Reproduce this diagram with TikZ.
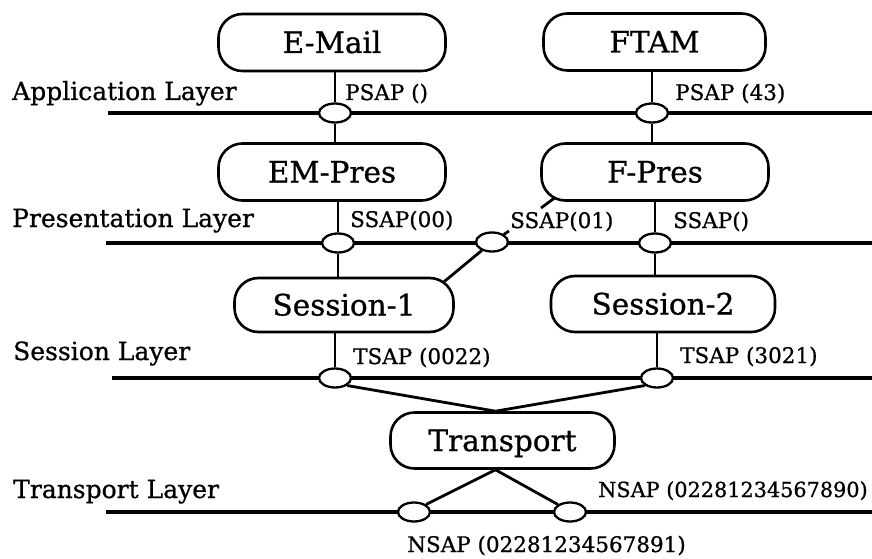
\documentclass[tikz,border=0pt]{standalone}
\usepackage{fontspec}
\setmainfont{DejaVu Serif}[FakeBold=0.8]
\usetikzlibrary{shapes.geometric,backgrounds,calc}
\begin{document}
\begin{tikzpicture}[x=1pt,y=-1pt,
  box/.style={draw,line width=2.6pt,rounded corners=24pt,fill=white,minimum width=227pt,minimum height=57pt,inner sep=0pt,text height=21pt,text depth=0pt,font=\fontsize{29.5}{34}\selectfont},
  sap/.style={draw,ellipse,line width=2.3pt,fill=white,minimum width=32pt,minimum height=19pt,inner sep=0pt},
  layerline/.style={line width=3.8pt},
  conn/.style={line width=2.8pt},
  lbl/.style={anchor=base west,inner sep=0pt,font=\fontsize{25}{30}\selectfont},
  saplbl/.style={anchor=base west,inner sep=0pt,font=\fontsize{21.5}{26}\selectfont}]
\useasboundingbox (0,0) rectangle (872,559);
% boxes
\node[box] (email) at (332,42.5) {E-Mail};
\node[box,minimum width=222pt] (ftam) at (654.5,42) {FTAM};
\node[box] (empres) at (332,172) {EM-Pres};
\node[box] (fpres) at (655,172) {F-Pres};
\node[box,minimum width=219pt,minimum height=54pt] (sess1) at (344,305) {Session-1};
\node[box,minimum width=224pt,minimum height=56pt] (sess2) at (663,304) {Session-2};
\node[box,minimum width=224pt,minimum height=56pt] (trans) at (502.5,440.5) {Transport};
% service access points
\node[sap] (pA1) at (335,113) {};
\node[sap] (pA2) at (652,113) {};
\node[sap] (pP1) at (338,243) {};
\node[sap] (pP2) at (492,242) {};
\node[sap] (pP3) at (655,243) {};
\node[sap] (pS1) at (335,378) {};
\node[sap] (pS2) at (657,378) {};
\node[sap] (pT1) at (414,512) {};
\node[sap] (pT2) at (570,512) {};
% layer labels
\node[lbl] (lapp) at (12,100) {Application Layer};
\node[lbl] (lpres) at (12,227) {Presentation Layer};
\node[lbl] (lsess) at (13,360) {Session Layer};
\node[lbl] (ltrans) at (13,498) {Transport Layer};
% SAP labels
\node[saplbl] (tA1) at (345,100) {PSAP ()};
\node[saplbl] (tA2) at (675,100) {PSAP (43)};
\node[saplbl] (tP1) at (350,227) {SSAP(00)};
\node[saplbl] (tP2) at (510,228) {SSAP(01)};
\node[saplbl] (tP3) at (673,228) {SSAP()};
\node[saplbl] (tS1) at (353,364) {TSAP (0022)};
\node[saplbl] (tS2) at (680,363) {TSAP (3021)};
\node[saplbl,font=\fontsize{20.8}{26}\selectfont] (tT2) at (598,497) {NSAP (02281234567890)};
\node[saplbl] (tT1) at (407,552) {NSAP (02281234567891)};
% coordinates
\coordinate (aL) at (108,113); \coordinate (aR) at (872,113);
\coordinate (prL) at (106,243); \coordinate (prR) at (872,243);
\coordinate (sL) at (112,378); \coordinate (sR) at (872,378);
\coordinate (tL) at (106,512); \coordinate (tR) at (872,512);
\coordinate (tick) at (509,231);
\coordinate (stubA) at (541,208);
\coordinate (tt) at ($(trans.north)+(-7,0)$);
\coordinate (tb) at ($(trans.south)+(-7,0)$);
\begin{scope}[on background layer]
\draw[layerline] (aL) -- (aR);
\draw[layerline] (prL) -- (prR);
\draw[layerline] (sL) -- (sR);
\draw[layerline] (tL) -- (tR);
\draw[conn] (pA1) -- (pA1 |- email.south);
\draw[conn] (pA1) -- (pA1 |- empres.north);
\draw[conn] (pA2) -- (pA2 |- ftam.south);
\draw[conn] (pA2) -- (pA2 |- fpres.north);
\draw[conn] (pP1) -- (pP1 |- empres.south);
\draw[conn] (pP1) -- (pP1 |- sess1.north);
\draw[conn] (pP3) -- (pP3 |- fpres.south);
\draw[conn] (pP3) -- (pP3 |- sess2.north);
\draw[conn] (pP2) -- ([xshift=-18pt,yshift=-11pt]sess1.north east);
\draw[conn] (pP2) -- (tick);
\draw[conn] (stubA) -- ($(fpres.south west)+(20,-8)$);
\draw[conn] (pS1) -- (pS1 |- sess1.south);
\draw[conn] (pS2) -- (pS2 |- sess2.south);
\draw[conn] (pS1.south east) -- (tt);
\draw[conn] (pS2.south west) -- (tt);
\draw[conn] (tb) -- (pT1.north east);
\draw[conn] (tb) -- (pT2.north west);
\end{scope}
\end{tikzpicture}
\end{document}
